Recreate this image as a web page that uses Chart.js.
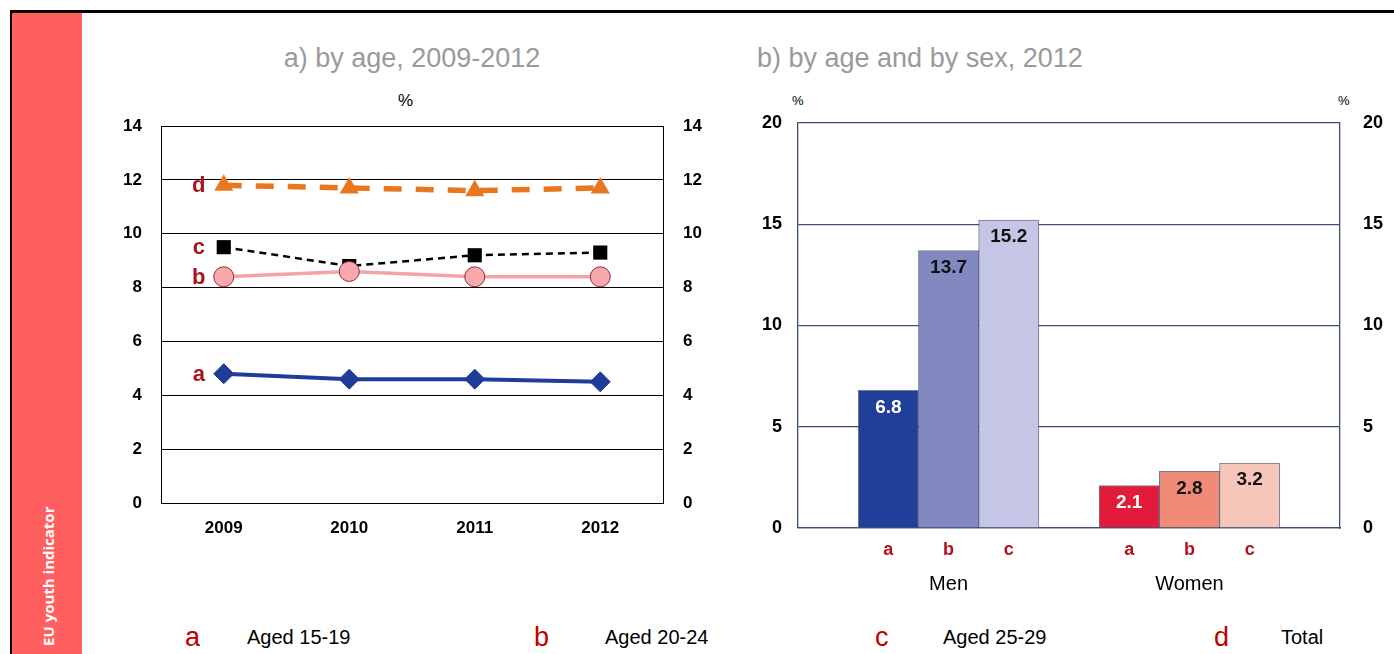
<!DOCTYPE html>
<html>
<head>
<meta charset="utf-8">
<script src="https://cdn.jsdelivr.net/npm/chart.js@4.4.0/dist/chart.umd.min.js"></script>
<style>
    body { margin: 0; width: 1394px; height: 654px; overflow: hidden; background: #fff; position: relative;
           font-family: 'Liberation Sans', Arial, sans-serif; }
    .abs { position: absolute; white-space: nowrap; }
    #frameTop { left: 10px; top: 10px; width: 1384px; height: 3px; background: #000; }
    #frameLeft { left: 10px; top: 10px; width: 2px; height: 644px; background: #000; }
    #side { left: 12px; top: 13px; width: 70px; height: 641px; background: #FF5F5F; }
    #sideText { left: 38px; top: 646px; line-height: 20px; font: bold 15px 'Open Sans', sans-serif; color: #fff;
                transform-origin: 0 0; transform: rotate(-90deg); }
    .title { font-size: 27px; line-height: 30px; color: #9a9a9a; top: 43px; }
    .pct { color: #000; }
    .legKey { color: #C00000; font-size: 27px; line-height: 30px; top: 622px; }
    .legName { color: #000; font-size: 20px; line-height: 22px; top: 626px; }
    canvas { position: absolute; }
</style>
</head>
<body>
<div id="frameTop" class="abs"></div>
<div id="frameLeft" class="abs"></div>
<div id="side" class="abs"></div>
<div id="sideText" class="abs">EU youth indicator</div>

<div class="abs title" style="left:262px;width:300px;text-align:center;">a) by age, 2009-2012</div>
<div class="abs title" style="left:757px;">b) by age and by sex, 2012</div>
<div class="abs pct" style="left:398px;top:91px;font-size:17px;">%</div>
<div class="abs pct" style="left:792px;top:93px;font-size:13px;">%</div>
<div class="abs pct" style="left:1338px;top:93px;font-size:13px;">%</div>

<div id="legend"></div>

<canvas id="lineChart" width="620" height="465" style="left:100px;top:80px;width:620px;height:465px;"></canvas>
<canvas id="barChart" width="654" height="520" style="left:740px;top:80px;width:654px;height:520px;"></canvas>

<script>
// données
const years = ['2009', '2010', '2011', '2012'];
const aged1519 = [4.8, 4.6, 4.6, 4.5];
const aged2024 = [8.4, 8.6, 8.4, 8.4];
const aged2529 = [9.5, 8.8, 9.2, 9.3];
const totalAll = [11.8, 11.7, 11.6, 11.7];

const seriesKeys = ['a', 'b', 'c', 'd'];
const seriesNames = ['Aged 15-19', 'Aged 20-24', 'Aged 25-29', 'Total'];

const sexGroups = ['Men', 'Women'];
const ageKeys = ['a', 'b', 'c'];
const menValues = [6.8, 13.7, 15.2];
const womenValues = [2.1, 2.8, 3.2];

const FONT = "'Liberation Sans', Arial, sans-serif";
const KEY_RED = '#A8141C';

// légende du bas
const legendPos = [[185, 247], [534, 605], [875, 943], [1214, 1281]];
const legendEl = document.getElementById('legend');
seriesKeys.forEach((k, i) => {
    const key = document.createElement('div');
    key.className = 'abs legKey';
    key.style.left = legendPos[i][0] + 'px';
    key.textContent = k;
    const name = document.createElement('div');
    name.className = 'abs legName';
    name.style.left = legendPos[i][1] + 'px';
    name.textContent = seriesNames[i];
    legendEl.appendChild(key);
    legendEl.appendChild(name);
});

/**
 * Lettres a-d à gauche du premier point
 */
const seriesLetters = {
    id: 'seriesLetters',
    afterDatasetsDraw(chart) {
        const ctx = chart.ctx;
        ctx.save();
        ctx.font = 'bold 22px ' + FONT;
        ctx.fillStyle = KEY_RED;
        ctx.textAlign = 'center';
        ctx.textBaseline = 'middle';
        chart.data.datasets.forEach((ds, i) => {
            const pt = chart.getDatasetMeta(i).data[0];
            ctx.fillText(seriesKeys[i], pt.x - 25, pt.y + 1);
        });
        ctx.restore();
    }
};

function fixWidth(w) { return scale => { scale.width = w; }; }
function fixHeight(h) { return scale => { scale.height = h; }; }

const tickFont = { family: FONT, size: 17, weight: 'bold' };

new Chart(document.getElementById('lineChart'), {
    type: 'line',
    data: {
        labels: years,
        datasets: [{
            label: seriesNames[0],
            data: aged1519,
            borderColor: '#1F3C99',
            backgroundColor: '#1F3C99',
            borderWidth: 4,
            pointStyle: 'rectRot',
            pointRadius: 10,
            pointBorderWidth: 1
        }, {
            label: seriesNames[1],
            data: aged2024,
            borderColor: '#F4A3A8',
            backgroundColor: '#F9A9AD',
            borderWidth: 3.5,
            pointStyle: 'circle',
            pointRadius: 10,
            pointBorderColor: '#8E2A3A',
            pointBorderWidth: 1
        }, {
            label: seriesNames[2],
            data: aged2529,
            borderColor: '#000',
            backgroundColor: '#000',
            borderWidth: 2.5,
            borderDash: [7, 5],
            pointStyle: 'rect',
            pointRadius: 10,
            pointBorderWidth: 0
        }, {
            label: seriesNames[3],
            data: totalAll,
            borderColor: '#E8771F',
            backgroundColor: '#E8771F',
            borderWidth: 5.5,
            borderDash: [18, 14],
            pointStyle: 'triangle',
            pointRadius: 11,
            pointBorderWidth: 0
        }]
    },
    options: {
        responsive: false,
        animation: false,
        layout: { padding: { top: 46 } },
        plugins: { legend: { display: false }, tooltip: { enabled: false } },
        scales: {
            x: {
                offset: true,
                afterFit: fixHeight(42),
                grid: { display: false },
                border: { display: true, color: '#000', width: 1 },
                ticks: { color: '#000', font: tickFont, padding: 7 }
            },
            y: {
                min: 0, max: 14,
                afterFit: fixWidth(61),
                grid: { color: '#000', lineWidth: 1, drawTicks: false },
                border: { display: true, color: '#000', width: 1 },
                ticks: { stepSize: 2, color: '#000', font: tickFont, padding: 19 }
            },
            y2: {
                position: 'right',
                min: 0, max: 14,
                afterFit: fixWidth(57),
                grid: { display: false, drawTicks: false },
                border: { display: true, color: '#000', width: 1 },
                ticks: { stepSize: 2, color: '#000', font: tickFont, padding: 20 }
            }
        }
    },
    plugins: [seriesLetters]
});

// graphique b : 9 emplacements (marge, a, b, c, écart, a, b, c, marge)
const barLabels = ['', ...ageKeys, '', ...ageKeys, ''];
const barData = [null, ...menValues, null, ...womenValues, null];
const barColors = [null, '#1F3F99', '#8189C0', '#C5C6E5', null, '#E31B3B', '#F08B78', '#F7C6BA', null];
const groupCenterIdx = [2, 6];

const barValueLabels = {
    id: 'barValueLabels',
    afterDatasetsDraw(chart) {
        const ctx = chart.ctx;
        const meta = chart.getDatasetMeta(0);
        ctx.save();
        ctx.font = 'bold 19px ' + FONT;
        ctx.textAlign = 'center';
        ctx.textBaseline = 'middle';
        meta.data.forEach((bar, i) => {
            const v = barData[i];
            if (v === null) return;
            const first = barLabels[i] === ageKeys[0];
            ctx.fillStyle = first ? '#fff' : '#111';
            ctx.fillText(v.toFixed(1), bar.x, bar.y + 17);
        });
        // Men / Women
        const xs = chart.scales.x;
        ctx.font = '20px ' + FONT;
        ctx.fillStyle = '#000';
        sexGroups.forEach((g, i) => {
            ctx.fillText(g, xs.getPixelForValue(groupCenterIdx[i]), chart.chartArea.bottom + 56);
        });
        ctx.restore();
    }
};

const navy = '#3E4E7C';
const barTickFont = { family: FONT, size: 18, weight: 'bold' };

new Chart(document.getElementById('barChart'), {
    type: 'bar',
    data: {
        labels: barLabels,
        datasets: [{
            data: barData,
            backgroundColor: barColors,
            borderColor: 'rgba(70,75,110,0.75)',
            borderWidth: 1,
            borderSkipped: 'bottom',
            categoryPercentage: 1,
            barPercentage: 1
        }]
    },
    options: {
        responsive: false,
        animation: false,
        layout: { padding: { top: 43 } },
        plugins: { legend: { display: false }, tooltip: { enabled: false } },
        scales: {
            x: {
                afterFit: fixHeight(72),
                grid: { display: false },
                border: { display: true, color: navy, width: 1.3 },
                ticks: { color: '#B01020', font: barTickFont, padding: 3, autoSkip: false, maxRotation: 0 }
            },
            y: {
                min: 0, max: 20,
                afterFit: fixWidth(58),
                grid: { color: navy, lineWidth: 1.3, drawTicks: false },
                border: { display: true, color: navy, width: 1.3 },
                ticks: { stepSize: 5, color: '#000', font: barTickFont, padding: 16 }
            },
            y2: {
                position: 'right',
                min: 0, max: 20,
                afterFit: fixWidth(54),
                grid: { display: false, drawTicks: false },
                border: { display: true, color: navy, width: 1.3 },
                ticks: { stepSize: 5, color: '#000', font: barTickFont, padding: 23 }
            }
        }
    },
    plugins: [barValueLabels]
});
</script>
</body>
</html>
